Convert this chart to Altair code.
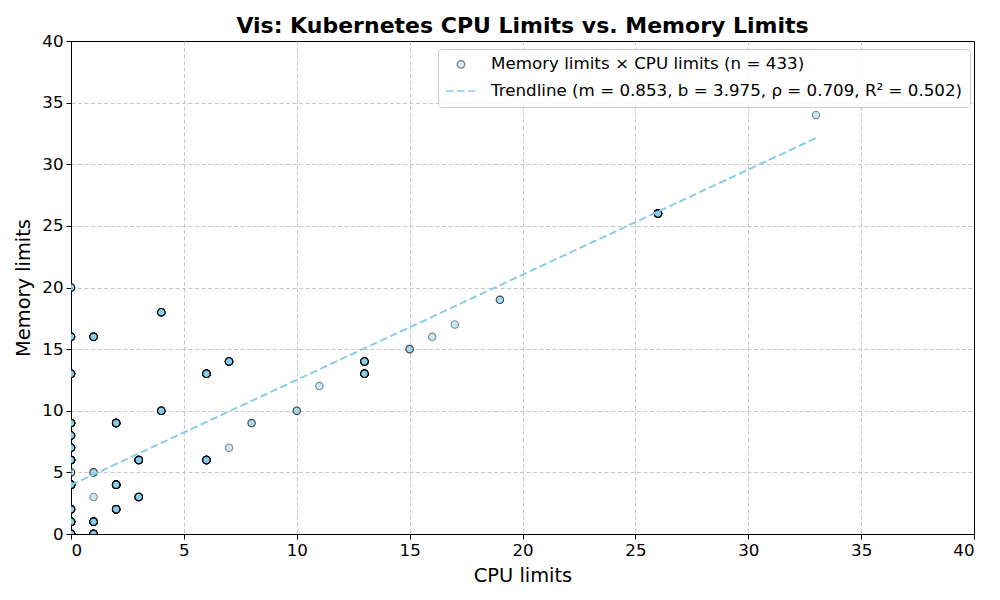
import altair as alt
import pandas as pd

# ---- data ----
cpu_limits = [0, 0, 0, 0, 0, 0, 0, 0, 0, 0, 0, 0,
              1, 1, 1, 1, 1,
              2, 2, 2,
              3, 3,
              4, 4,
              6, 6,
              7, 7,
              8, 10, 11,
              13, 13,
              15, 16, 17, 19,
              26, 33]
mem_limits = [20, 16, 13, 9, 8, 7, 6, 5, 4, 2, 1, 0,
              16, 5, 3, 1, 0,
              9, 4, 2,
              6, 3,
              18, 10,
              13, 6,
              14, 7,
              9, 10, 12,
              14, 13,
              15, 16, 17, 19,
              26, 34]
counts = [4, 8, 12, 15, 8, 10, 15, 2, 30, 12, 25, 60,
          8, 2, 1, 15, 25,
          15, 20, 15,
          12, 10,
          6, 8,
          12, 15,
          12, 1,
          2, 2, 1,
          10, 12,
          2, 1, 1, 2,
          21, 1]

slope = 0.853
intercept = 3.975
rho = 0.709
r2 = 0.502
n_total = sum(counts)

label_pts = f"Memory limits \u00d7 CPU limits (n = {n_total})"
label_line = f"Trendline (m = {slope:.3f}, b = {intercept:.3f}, \u03c1 = {rho:.3f}, R\u00b2 = {r2:.3f})"
series = [label_pts, label_line]

rows = []
for cx, my, c in zip(cpu_limits, mem_limits, counts):
    for _ in range(c):
        rows.append({"cpu": cx, "mem": my, "series": label_pts})
pts_df = pd.DataFrame(rows)

x_lo, x_hi = min(cpu_limits), max(cpu_limits)
line_df = pd.DataFrame({
    "cpu": [x_lo, x_hi],
    "mem": [slope * x_lo + intercept, slope * x_hi + intercept],
    "series": [label_line, label_line],
})

FONT = "DejaVu Sans"
SKY = "#87CEEB"

legend = alt.Legend(
    title=None, orient="none", legendX=367, legendY=8,
    fillColor="rgba(255,255,255,0.85)", strokeColor="#cccccc",
    padding=7, cornerRadius=3,
    labelFont=FONT, labelFontSize=16.7, labelColor="black", labelLimit=800,
    labelOffset=14, rowPadding=1, symbolStrokeWidth=1.5,
)

ticks = list(range(0, 41, 5))
grid_op = {"condition": {"test": "datum.value == 0 || datum.value == 40", "value": 0}, "value": 1}

xscale = alt.Scale(domain=[0, 40], nice=False, zero=False)
yscale = alt.Scale(domain=[0, 40], nice=False, zero=False)
xaxis = alt.Axis(title="CPU limits", values=ticks, format="d", gridOpacity=grid_op)
yaxis = alt.Axis(title="Memory limits", values=ticks, format="d", gridOpacity=grid_op)

# color -> stroke (black edge for points, sky blue for the trendline)
color_enc = alt.Color("series:N", scale=alt.Scale(domain=series, range=["black", SKY]), legend=legend)

points = alt.Chart(pts_df).mark_point(filled=False, strokeWidth=1.1, clip=True).encode(
    x=alt.X("cpu:Q", scale=xscale, axis=xaxis),
    y=alt.Y("mem:Q", scale=yscale, axis=yaxis),
    color=color_enc,
    fill=alt.Fill("series:N", scale=alt.Scale(domain=series, range=[SKY, SKY]), legend=legend),
    shape=alt.Shape("series:N", scale=alt.Scale(domain=series, range=["circle", "stroke"]), legend=legend),
    size=alt.Size("series:N", scale=alt.Scale(type="point", padding=0, domain=series, range=[55, 900]), legend=legend),
    opacity=alt.Opacity("series:N", scale=alt.Scale(type="point", padding=0, domain=series, range=[0.45, 1.0]), legend=legend),
)

trend = alt.Chart(line_df).mark_line(strokeWidth=2).encode(
    x="cpu:Q",
    y="mem:Q",
    color=color_enc,
    strokeDash=alt.StrokeDash("series:N", scale=alt.Scale(domain=series, range=[[1, 0], [7.5, 3.5]]), legend=legend),
)

chart = (
    alt.layer(points, trend)
    .properties(
        width=903, height=493,
        title=alt.TitleParams("Vis: Kubernetes CPU Limits vs. Memory Limits",
                              font=FONT, fontSize=22, fontWeight="bold", color="black",
                              anchor="middle", offset=-5),
        autosize=alt.AutoSizeParams(type="none"),
        padding={"left": 63, "top": 33, "right": 18, "bottom": 58},
    )
    .configure_view(stroke="black", strokeWidth=1)
    .configure_axis(
        labelFont=FONT, labelFontSize=16.7, labelColor="black",
        titleFont=FONT, titleFontSize=19.4, titleFontWeight="normal", titleColor="black",
        domainColor="black", tickColor="black", tickSize=5, labelPadding=3,
        grid=True, gridColor="#c8c8c8", gridDash=[4, 2.5], gridWidth=1,
    )
    .configure_axisX(titlePadding=8)
    .configure_axisY(titlePadding=8)
)

chart.save("out.html", embed_options={"renderer": "svg", "actions": False})
